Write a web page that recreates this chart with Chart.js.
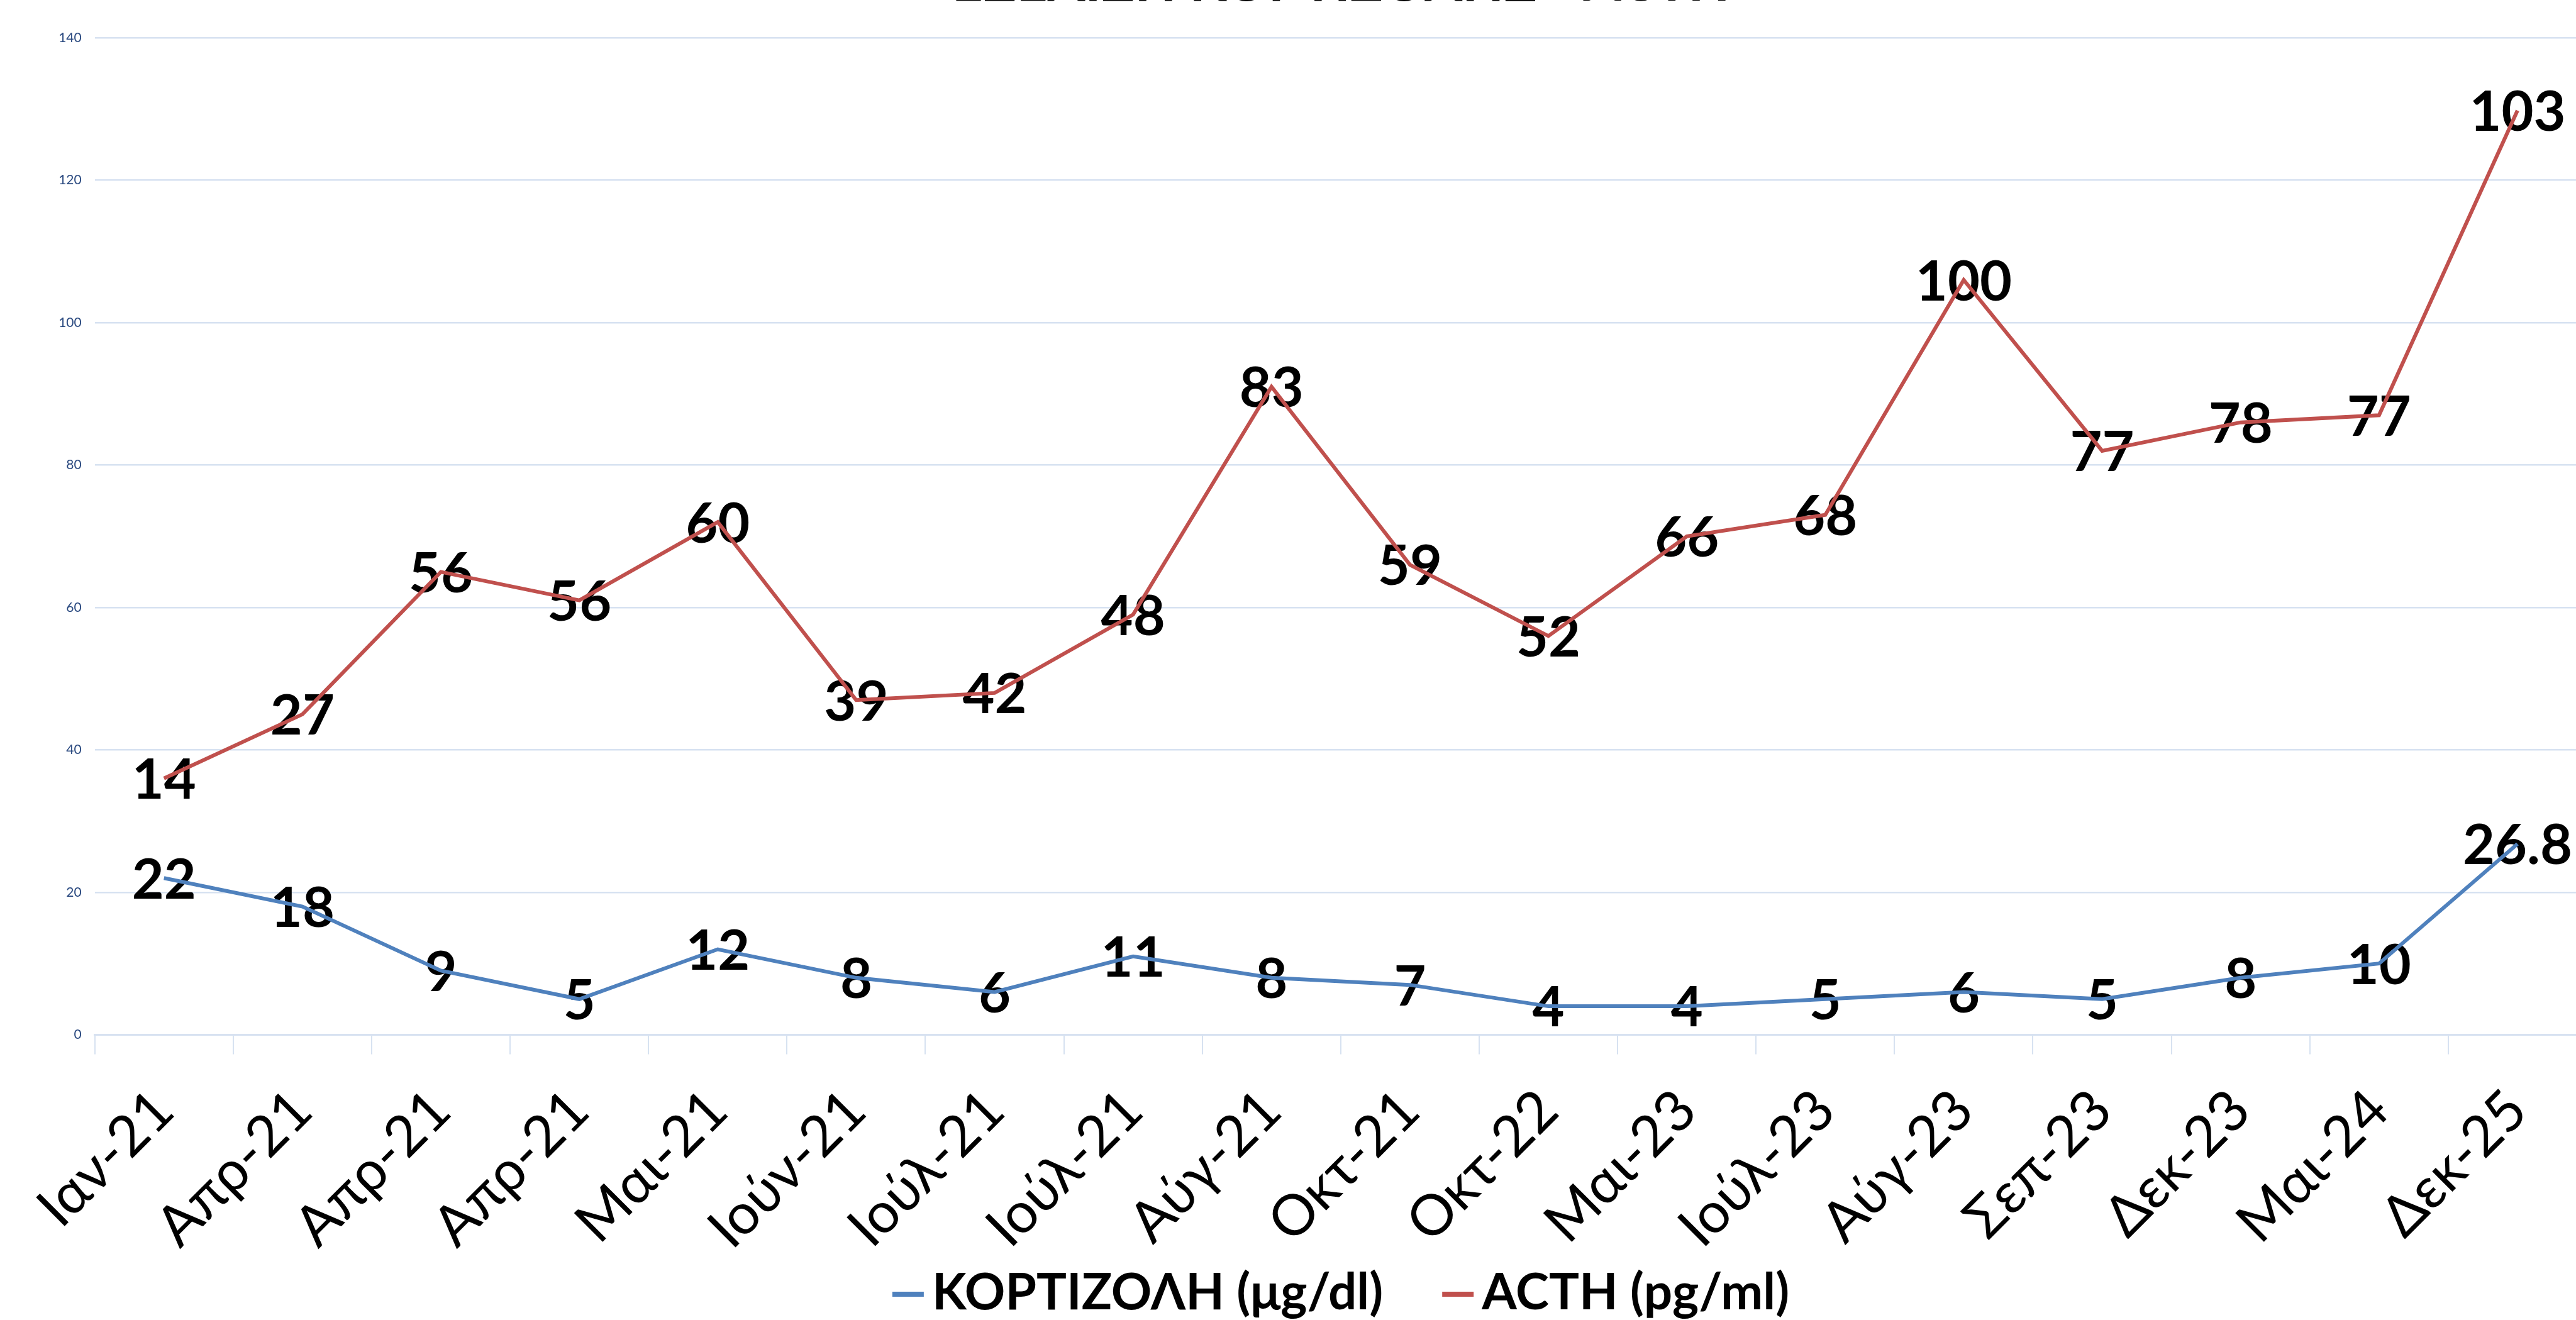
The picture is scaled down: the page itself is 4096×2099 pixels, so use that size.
<!DOCTYPE html>
<html>
<head>
<meta charset="utf-8">
<script src="https://cdn.jsdelivr.net/npm/chart.js@4/dist/chart.umd.min.js"></script>
<style>
  html, body { margin: 0; padding: 0; background: #fff; overflow: hidden; width: 4096px; height: 2099px; }
  #wrap { position: absolute; left: 0; top: -100px; }
</style>
</head>
<body>
<div id="wrap"><canvas id="chart" width="4264" height="2400"></canvas></div>
<script>
// categories and series
const categories = ['Ιαν-21', 'Απρ-21', 'Απρ-21', 'Απρ-21', 'Μαι-21', 'Ιούν-21', 'Ιούλ-21', 'Ιούλ-21', 'Αύγ-21',
  'Οκτ-21', 'Οκτ-22', 'Μαι-23', 'Ιούλ-23', 'Αύγ-23', 'Σεπ-23', 'Δεκ-23', 'Μαι-24', 'Δεκ-25'];
const cortisol = [22, 18, 9, 5, 12, 8, 6, 11, 8, 7, 4, 4, 5, 6, 5, 8, 10, 26.8];
const acth = [14, 27, 56, 56, 60, 39, 42, 48, 83, 59, 52, 66, 68, 100, 77, 78, 77, 103];
const seriesNames = ['ΚΟΡΤΙΖΟΛΗ (μg/dl)', 'ACTH (pg/ml)'];
const yMin = 0, yMax = 140, yStep = 20;
const titleText = 'ΕΞΕΛΙΞΗ ΚΟΡΤΙΖΟΛΗΣ - ACTH';

const gridColor = '#D7E2F1';

// value labels centred on each point (drawn under the lines, like the original)
const valueLabels = {
  id: 'valueLabels',
  beforeDatasetsDraw(chart) {
    const ctx = chart.ctx;
    ctx.save();
    ctx.font = 'bold 88px Lato';
    ctx.fillStyle = '#000';
    ctx.textAlign = 'center';
    ctx.textBaseline = 'middle';
    chart.data.datasets.forEach((ds, di) => {
      chart.getDatasetMeta(di).data.forEach((pt, i) => {
        ctx.fillText(String(ds.data[i]), pt.x, pt.y + 4);
      });
    });
    ctx.restore();
  }
};

// legend drawn by hand: the built-in one ties item spacing to its vertical padding
const bottomLegend = {
  id: 'bottomLegend',
  afterDraw(chart, args, opts) {
    const ctx = chart.ctx;
    ctx.save();
    ctx.font = 'bold ' + opts.fontSize + 'px Lato';
    ctx.textBaseline = 'middle';
    ctx.textAlign = 'left';
    const items = chart.data.datasets.map(ds => ({ text: ds.label, color: ds.borderColor, w: ctx.measureText(ds.label).width }));
    const total = items.reduce((s, it) => s + opts.boxWidth + opts.boxGap + it.w, 0) + opts.itemGap * (items.length - 1);
    let x = chart.width / 2 - total / 2;
    const y = chart.height - opts.fromBottom;
    items.forEach(it => {
      ctx.fillStyle = it.color;
      ctx.fillRect(x, y - opts.boxHeight / 2 + 2, opts.boxWidth, opts.boxHeight);
      x += opts.boxWidth + opts.boxGap;
      ctx.fillStyle = '#000';
      ctx.fillText(it.text, x, y);
      x += it.w + opts.itemGap;
    });
    ctx.restore();
  }
};

const ctx = document.getElementById('chart').getContext('2d');
new Chart(ctx, {
  type: 'line',
  data: {
    labels: categories,
    datasets: [
      { label: seriesNames[0], data: cortisol, borderColor: '#4F81BD', backgroundColor: '#4F81BD',
        borderWidth: 6, pointRadius: 0, tension: 0, fill: false },
      { label: seriesNames[1], data: acth, borderColor: '#C0504D', backgroundColor: '#C0504D',
        borderWidth: 6, pointRadius: 0, tension: 0, fill: false }
    ]
  },
  options: {
    responsive: false,
    animation: false,
    devicePixelRatio: 1,
    layout: { padding: { left: 0, right: 0, top: 0, bottom: 254.6 } },
    plugins: {
      title: {
        display: true, text: titleText, color: '#000',
        font: { family: 'Lato', size: 86, weight: 'bold' },
        padding: { top: 22, bottom: 35 }
      },
      legend: { display: false },
      bottomLegend: { fontSize: 80, boxWidth: 50, boxHeight: 8, boxGap: 13, itemGap: 94, fromBottom: 244 },
      tooltip: { enabled: false }
    },
    scales: {
      x: {
        offset: true,
        grid: { offset: true, drawOnChartArea: false, drawTicks: true, tickLength: 31, color: gridColor, lineWidth: 2 },
        border: { display: true, color: gridColor, width: 3 },
        ticks: {
          autoSkip: false, minRotation: 45, maxRotation: 45, padding: 36, color: '#000',
          font: { family: 'Lato', size: 90 }
        },
        afterFit: s => { s.height = 400; }
      },
      y: {
        stacked: true, min: yMin, max: yMax,
        ticks: { stepSize: yStep, padding: 21, color: '#2B4A80', font: { family: 'Lato', size: 21 } },
        grid: { color: gridColor, lineWidth: 2.5, drawTicks: false },
        border: { display: false },
        afterFit: s => { s.width = 150.7; }
      },
      // empty right-hand strip: the plot runs past the picture's right edge
      yRight: {
        position: 'right', display: true, min: yMin, max: yMax,
        ticks: { display: false }, grid: { display: false }, border: { display: false },
        afterFit: s => { s.width = 151; }
      }
    }
  },
  plugins: [valueLabels, bottomLegend]
});
</script>
</body>
</html>
